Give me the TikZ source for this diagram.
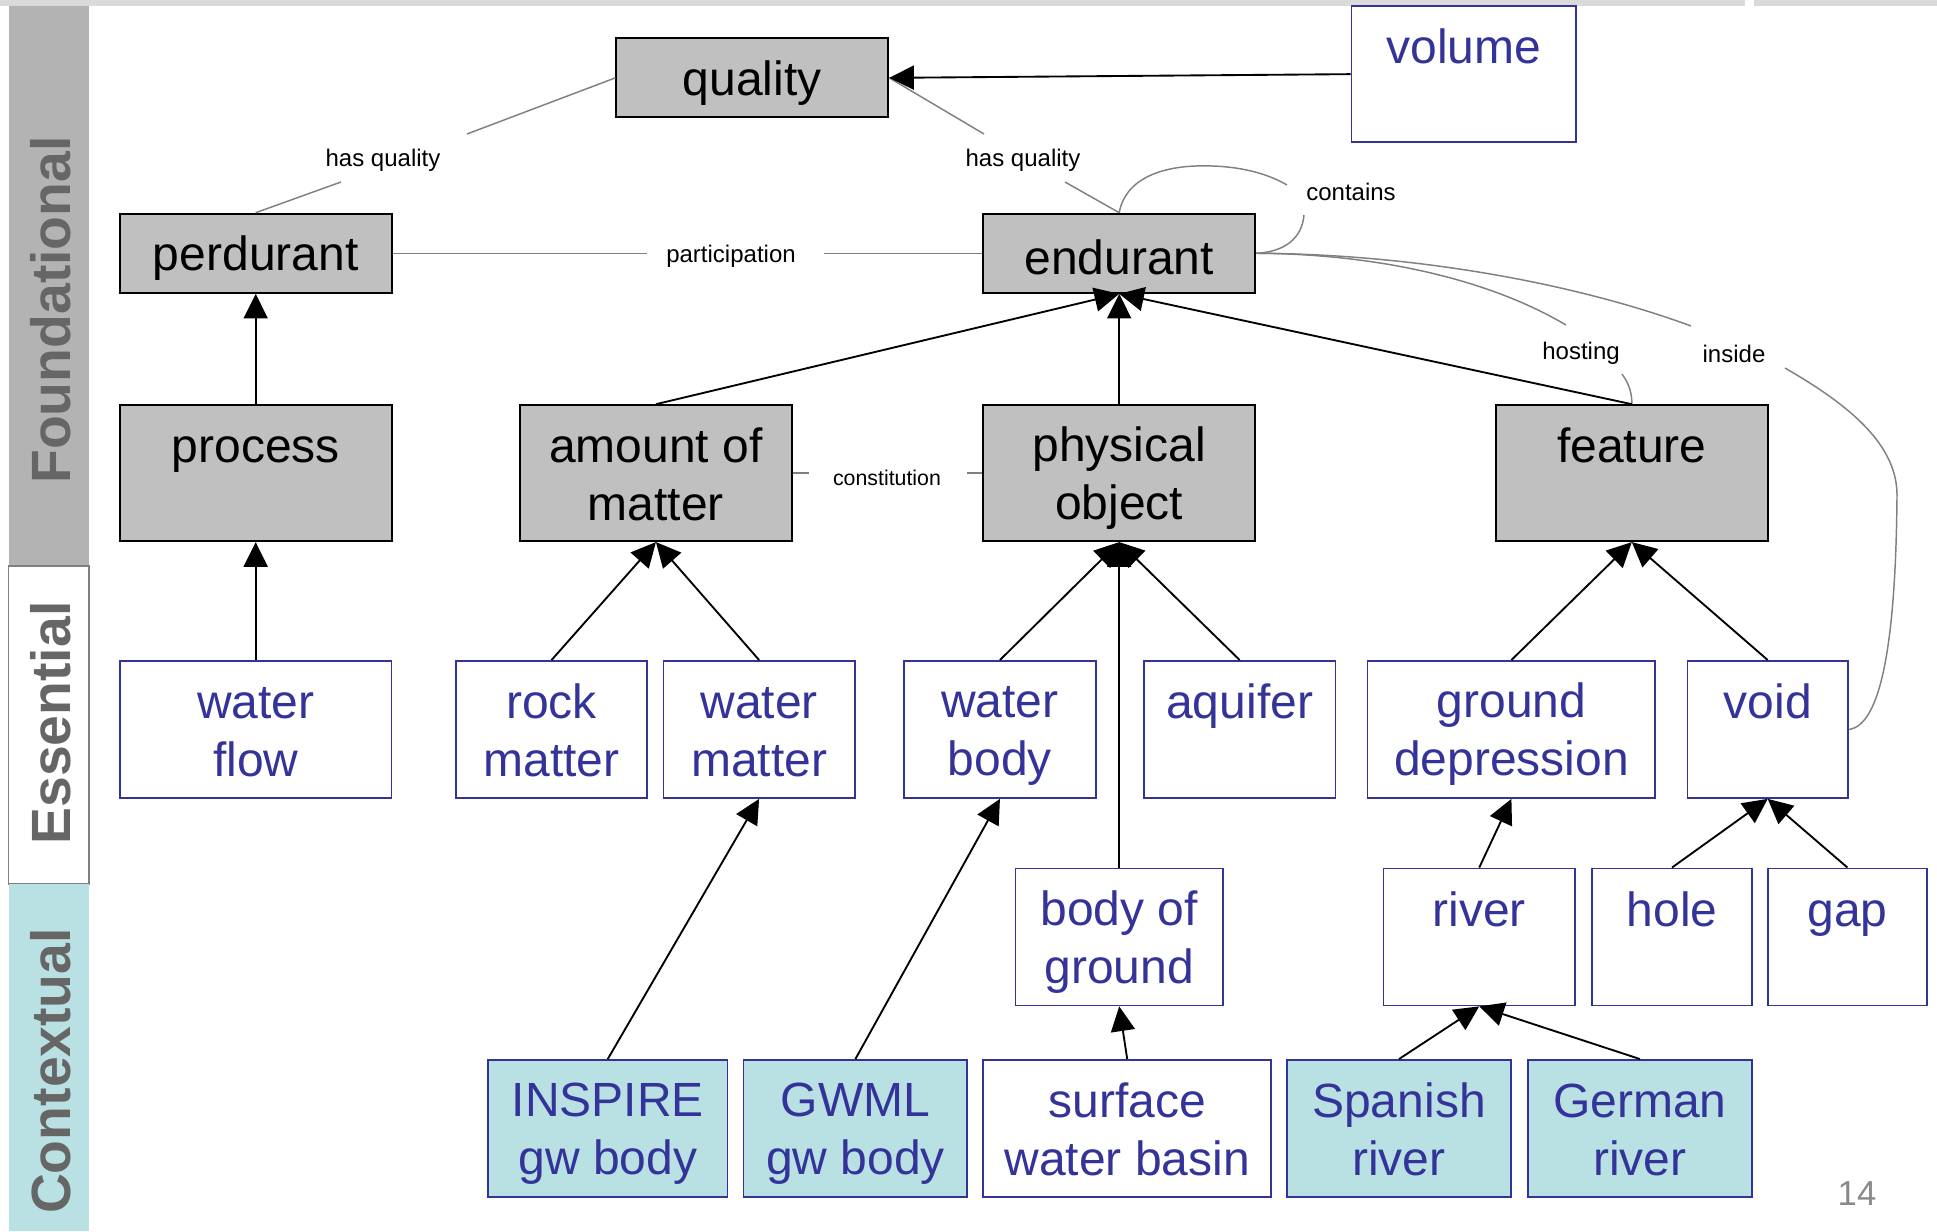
\documentclass[tikz,border=0pt]{standalone}
\usepackage{fontspec}
\setmainfont{Liberation Sans}
\usetikzlibrary{arrows.meta}
\definecolor{ublue}{HTML}{333399}
\definecolor{tealfill}{HTML}{B9E0E3}
\definecolor{boxgray}{HTML}{C0C0C0}
\definecolor{sidegray}{HTML}{B3B3B3}
\definecolor{sidetext}{HTML}{666666}
\definecolor{relgray}{HTML}{808080}
\definecolor{stripgray}{HTML}{DADADA}
\definecolor{numgray}{HTML}{8A8A8A}
\newcommand{\tstrut}{\rule[-2.25pt]{0pt}{36pt}}
\newcommand{\bstrut}{\rule[-6pt]{0pt}{6pt}}
\newcommand{\mkbox}[7]{\node[#6, minimum width={(#4-#2)*0.75pt}, minimum height={(#5-#3)*0.75pt}] (#1) at ({(#2+#4)/2},{(#3+#5)/2}) {\tstrut #7\bstrut};}
\newcommand{\mkboxs}[7]{\node[#6, minimum width={(#4-#2)*0.75pt}, minimum height={(#5-#3)*0.75pt}] (#1) at ({(#2+#4)/2},{(#3+#5)/2}) {\tstrut #7\tstrut};}
\begin{document}
\begin{tikzpicture}[x=0.75pt, y=-0.75pt,
 boxbase/.style={rectangle, inner sep=0pt, align=center, font=\fontsize{36pt}{43.5pt}\selectfont},
 fndbox/.style={boxbase, draw=black, line width=1.5pt, fill=boxgray, text=black},
 essbox/.style={boxbase, draw=ublue, line width=1.3pt, fill=white, text=ublue},
 ctxbox/.style={boxbase, draw=ublue, line width=1.3pt, fill=tealfill, text=ublue},
 isa/.style={-{Triangle[length=18.5pt,width=18pt]}, line width=1.4pt, draw=black},
 relline/.style={draw=relgray, line width=1.1pt},
 lbl/.style={font=\fontsize{18pt}{21pt}\selectfont, text=black, inner sep=0pt},
 sidetxt/.style={rotate=90, font=\fontsize{41.5pt}{48pt}\selectfont\bfseries, text=sidetext, anchor=base, inner sep=0pt}]
\useasboundingbox (0,0) rectangle (1937,1231);
% top strip
\fill[stripgray] (0,0) rectangle (1745,6);
\fill[stripgray] (1754,0) rectangle (1937,6);
% sidebar
\fill[sidegray] (8.6,6) rectangle (89,566);
\draw[relgray, line width=1.3pt, fill=white] (8.6,566) rectangle (89,884);
\fill[tealfill] (8.6,884) rectangle (89,1231);
\node[sidetxt] (sfound) at (70,310) {Foundational};
\node[sidetxt] (sess) at (70,723) {Essential};
\node[sidetxt] (sctx) at (70,1071) {Contextual};
% relation line break points
\coordinate (hqa) at (467,134);
\coordinate (hqb) at (341,182);
\coordinate (hqc) at (984,134);
\coordinate (hqd) at (1065,182);
\coordinate (pa) at (647,253.25);
\coordinate (pb) at (824,253.25);
\coordinate (ca) at (809,473.15);
\coordinate (cb) at (967,473.15);
\coordinate (cta) at (1287,185);
\coordinate (ctb) at (1304,215);
\coordinate (ha) at (1566,325);
\coordinate (hb) at (1622,374);
\coordinate (ia) at (1691,326);
\coordinate (ib) at (1785,368);
% boxes
\mkboxs{quality}{616.4}{38.3}{888.2}{117.4}{fndbox}{quality}
\mkbox{volume}{1351.4}{6.2}{1576.2}{142.1}{essbox}{volume\\\mbox{}}
\mkboxs{perdurant}{119.8}{213.7}{391.6}{292.8}{fndbox}{perdurant}
\mkboxs{endurant}{983.3}{213.7}{1255.1}{292.8}{fndbox}{endurant}
\mkbox{process}{119.8}{405.2}{391.6}{541.1}{fndbox}{process\\\mbox{}}
\mkbox{amount}{520.1}{405.2}{791.8}{541.1}{fndbox}{amount of\\matter}
\mkbox{physical}{983.3}{405.2}{1255.1}{541.1}{fndbox}{physical\\object}
\mkbox{feature}{1495.9}{405.2}{1767.7}{541.1}{fndbox}{feature\\\mbox{}}
\mkbox{waterflow}{119.8}{660.9}{391.6}{798.0}{essbox}{water\\flow}
\mkbox{rock}{455.8}{660.9}{647.3}{798.0}{essbox}{rock\\matter}
\mkbox{watermatter}{663.4}{660.9}{854.8}{798.0}{essbox}{water\\matter}
\mkbox{waterbody}{904.2}{660.9}{1095.7}{798.0}{essbox}{water\\body}
\mkbox{aquifer}{1143.9}{660.9}{1335.4}{798.0}{essbox}{aquifer\\\mbox{}}
\mkbox{grounddep}{1367.5}{660.9}{1655.3}{798.0}{essbox}{ground\\depression}
\mkbox{void}{1687.4}{660.9}{1848.0}{798.0}{essbox}{void\\\mbox{}}
\mkbox{bodyground}{1015.4}{868.4}{1223.0}{1005.5}{essbox}{body of\\ground}
\mkbox{river}{1383.5}{868.4}{1575.0}{1005.5}{essbox}{river\\\mbox{}}
\mkbox{hole}{1592.3}{868.4}{1751.7}{1005.5}{essbox}{hole\\\mbox{}}
\mkbox{gap}{1767.7}{868.4}{1927.1}{1005.5}{essbox}{gap\\\mbox{}}
\mkbox{inspire}{487.9}{1059.9}{727.6}{1197.0}{ctxbox}{INSPIRE\\gw body}
\mkbox{gwml}{743.6}{1059.9}{967.2}{1197.0}{ctxbox}{GWML\\gw body}
\mkbox{surface}{983.3}{1059.9}{1271.1}{1197.0}{essbox}{surface\\water basin}
\mkbox{spanish}{1287.2}{1059.9}{1510.8}{1197.0}{ctxbox}{Spanish\\river}
\mkbox{german}{1528.1}{1059.9}{1751.7}{1197.0}{ctxbox}{German\\river}
% relation lines
\draw[relline] (quality.west) -- (hqa);
\draw[relline] (hqb) -- (perdurant.north);
\draw[relline] (quality.east) -- (hqc);
\draw[relline] (hqd) -- (endurant.north);
\draw[relline] (perdurant.east) -- (pa);
\draw[relline] (pb) -- (endurant.west);
\draw[relline] (amount.east) -- (ca);
\draw[relline] (cb) -- (physical.west);
\draw[relline] (endurant.north) .. controls (1125,180) and (1160,164) .. (1212,166) .. controls (1245,167) and (1270,175) .. (cta);
\draw[relline] (ctb) .. controls (1302,238) and (1285,252) .. (endurant.east);
\draw[relline] (endurant.east) .. controls (1380,254) and (1490,280) .. (ha);
\draw[relline] (hb) .. controls (1630,385) and (1632,395) .. (feature.north);
\draw[relline] (endurant.east) .. controls (1420,254) and (1580,285) .. (ia);
\draw[relline] (ib) .. controls (1840,400) and (1897,440) .. (1897,495) .. controls (1896,620) and (1885,725) .. (void.east);
% labels
\node[lbl] (hq1) at (383,160.5) {has quality};
\node[lbl] (hq2) at (1023,160.5) {has quality};
\node[lbl] (part) at (731,256.5) {participation};
\node[lbl, font=\fontsize{16pt}{19pt}\selectfont] (const) at (887,477.5) {constitution};
\node[lbl] (cont) at (1351,191.5) {contains};
\node[lbl] (host) at (1581,353.5) {hosting};
\node[lbl] (ins) at (1734,353.5) {inside};
% is-a arrows
\draw[isa] (volume.west) -- (quality.east);
\draw[isa] (process.north) -- (perdurant.south);
\draw[isa] (waterflow.north) -- (process.south);
\draw[isa] (amount.north) -- (endurant.south);
\draw[isa] (physical.north) -- (endurant.south);
\draw[isa] (feature.north) -- (endurant.south);
\draw[isa] (rock.north) -- (amount.south);
\draw[isa] (watermatter.north) -- (amount.south);
\draw[isa] (waterbody.north) -- (physical.south);
\draw[isa] (aquifer.north) -- (physical.south);
\draw[isa] (bodyground.north) -- (physical.south);
\draw[isa] (grounddep.north) -- (feature.south);
\draw[isa] (void.north) -- (feature.south);
\draw[isa] (inspire.north) -- (watermatter.south);
\draw[isa] (gwml.north) -- (waterbody.south);
\draw[isa] (surface.north) -- (bodyground.south);
\draw[isa] (river.north) -- (grounddep.south);
\draw[isa] (hole.north) -- (void.south);
\draw[isa] (gap.north) -- (void.south);
\draw[isa] (spanish.north) -- (river.south);
\draw[isa] (german.north) -- (river.south);
% page number
\node[text=numgray, font=\fontsize{26pt}{30pt}\selectfont, inner sep=0pt] (pnum) at (1857,1194) {14};
\end{tikzpicture}
\end{document}
